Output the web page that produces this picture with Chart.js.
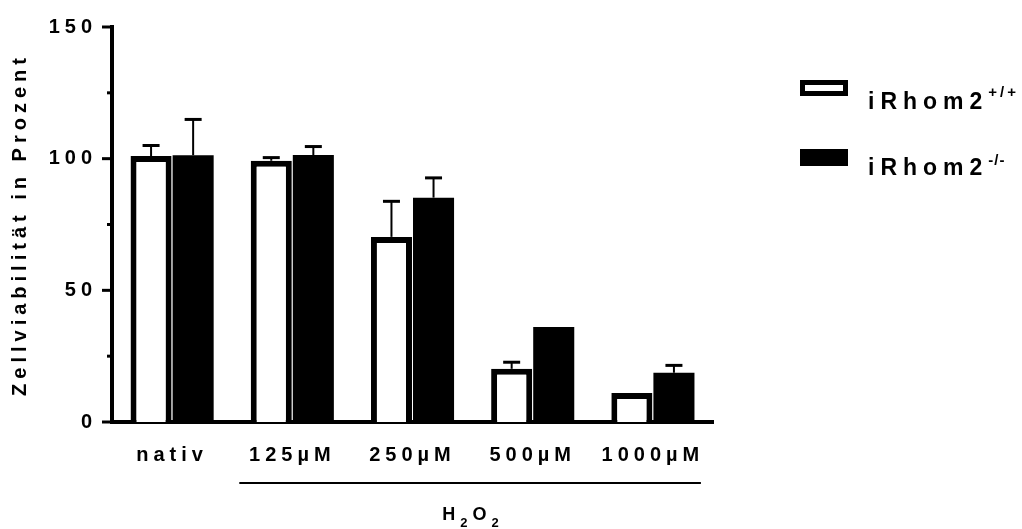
<!DOCTYPE html>
<html>
<head>
<meta charset="utf-8">
<script src="https://cdn.jsdelivr.net/npm/chart.js@4"></script>
<style>
  html, body { margin: 0; padding: 0; background: #fff; }
</style>
</head>
<body>
<canvas id="chart" width="1022" height="529"></canvas>
<script>
let categories = ['nativ', '125µM', '250µM', '500µM', '1000µM'];
let wildType = [101, 99.2, 70.3, 20.2, 11];
let wildTypeErr = [4, 1.2, 13.5, 2.5, 0];
let knockOut = [101.3, 101.4, 85.2, 36.1, 18.7];
let knockOutErr = [13.6, 3.2, 7.5, 0, 2.8];
let yLabelTicks = [0, 50, 100, 150];

const FONT = "'Liberation Sans', Arial, sans-serif";
const SPACING = '5px';

// prism style letter spacing on every text the chart draws
const letterSpacing = {
  id: 'letterSpacing',
  beforeUpdate(chart) { chart.ctx.letterSpacing = SPACING; },
  beforeDraw(chart) { chart.ctx.letterSpacing = SPACING; },
};

const errorBars = {
  id: 'errorBars',
  afterDatasetsDraw(chart) {
    const ctx = chart.ctx;
    const yScale = chart.scales.y;
    const errs = [wildTypeErr, knockOutErr];
    ctx.save();
    ctx.strokeStyle = '#000';
    chart.data.datasets.forEach((ds, i) => {
      chart.getDatasetMeta(i).data.forEach((bar, j) => {
        if (!errs[i][j]) return;
        const top = yScale.getPixelForValue(ds.data[j] + errs[i][j]);
        ctx.lineWidth = 2;
        ctx.beginPath();
        ctx.moveTo(bar.x, bar.y);
        ctx.lineTo(bar.x, top);
        ctx.stroke();
        ctx.lineWidth = 3;
        ctx.beginPath();
        ctx.moveTo(bar.x - 8.5, top);
        ctx.lineTo(bar.x + 8.5, top);
        ctx.stroke();
      });
    });
    ctx.restore();
  },
};

// draws text pieces left to right, each piece can be raised/lowered
function drawParts(ctx, parts, x, y, align) {
  let total = 0;
  parts.forEach((p) => {
    ctx.font = `bold ${p.size}px ${FONT}`;
    ctx.letterSpacing = p.spacing || SPACING;
    total += ctx.measureText(p.text).width;
  });
  let cx = align === 'center' ? x - total / 2 : x;
  parts.forEach((p) => {
    ctx.font = `bold ${p.size}px ${FONT}`;
    ctx.letterSpacing = p.spacing || SPACING;
    ctx.fillText(p.text, cx, y + (p.dy || 0));
    cx += ctx.measureText(p.text).width;
  });
}

const extras = {
  id: 'extras',
  afterDraw(chart) {
    const ctx = chart.ctx;
    const yScale = chart.scales.y;
    const xScale = chart.scales.x;
    const left = chart.chartArea.left;
    ctx.save();
    ctx.strokeStyle = '#000';
    ctx.fillStyle = '#000';
    ctx.lineWidth = 3;
    // major + minor tick marks
    yScale.ticks.forEach((t) => {
      const py = yScale.getPixelForValue(t.value);
      const len = yLabelTicks.includes(t.value) ? 10 : 5;
      ctx.beginPath();
      ctx.moveTo(left - len, py);
      ctx.lineTo(left, py);
      ctx.stroke();
    });

    // H2O2 bracket under the treated groups
    const x1 = xScale.getPixelForValue(1) - 53;
    const x2 = xScale.getPixelForValue(4) + 48;
    ctx.lineWidth = 2;
    ctx.beginPath();
    ctx.moveTo(x1, 483);
    ctx.lineTo(x2, 483);
    ctx.stroke();
    ctx.textBaseline = 'alphabetic';
    ctx.textAlign = 'left';
    drawParts(ctx, [
      { text: 'H', size: 18 },
      { text: '2', size: 13, dy: 7 },
      { text: 'O', size: 18 },
      { text: '2', size: 13, dy: 7 },
    ], (x1 + x2) / 2 + 3, 520, 'center');

    // legend
    const sets = chart.data.datasets;
    ctx.fillStyle = sets[0].backgroundColor;
    ctx.fillRect(800, 80, 48, 16);
    ctx.strokeStyle = sets[0].borderColor;
    ctx.lineWidth = 5;
    ctx.strokeRect(802.5, 82.5, 43, 11);
    ctx.fillStyle = sets[1].backgroundColor;
    ctx.fillRect(800, 149, 48, 17);
    ctx.fillStyle = '#000';
    drawParts(ctx, [
      { text: 'iRhom2', size: 23, spacing: '6px' },
      { text: '+/+', size: 15, dy: -12, spacing: '3px' },
    ], 868, 109);
    drawParts(ctx, [
      { text: 'iRhom2', size: 23, spacing: '6px' },
      { text: '-/-', size: 15, dy: -10, spacing: '1px' },
    ], 868, 175);
    ctx.restore();
  },
};

let ctx = document.getElementById('chart').getContext('2d');
const data = {
  labels: categories,
  datasets: [
    {
      label: 'iRhom2+/+',
      data: wildType,
      backgroundColor: '#ffffff',
      borderColor: '#000000',
      borderWidth: 6,
    },
    {
      label: 'iRhom2-/-',
      data: knockOut,
      backgroundColor: '#000000',
      borderColor: '#000000',
      borderWidth: 0,
    },
  ],
};
const config = {
  type: 'bar',
  data: data,
  options: {
    responsive: false,
    animation: false,
    devicePixelRatio: 1,
    datasets: {
      bar: {
        barPercentage: 0.976,
        categoryPercentage: 0.7,
      },
    },
    layout: {
      padding: { left: 0, right: 309, top: 24, bottom: 0 },
    },
    plugins: {
      legend: { display: false },
      tooltip: { enabled: false },
    },
    scales: {
      x: {
        grid: { display: false, drawTicks: false },
        border: { display: true, color: '#000', width: 4 },
        ticks: {
          color: '#000',
          padding: 21,
          maxRotation: 0,
          font: { family: FONT, size: 20, weight: 'bold' },
        },
        afterFit: (scale) => { scale.height = 107; },
      },
      y: {
        min: 0,
        max: 150,
        grid: { display: false, drawTicks: false },
        border: { display: true, color: '#000', width: 4 },
        ticks: {
          stepSize: 25,
          color: '#000',
          padding: 15,
          font: { family: FONT, size: 20, weight: 'bold' },
          callback: (v) => (yLabelTicks.includes(v) ? v : ''),
        },
        title: {
          display: true,
          text: 'Zellviabilität in Prozent',
          color: '#000',
          padding: { top: 8, bottom: 0 },
          font: { family: FONT, size: 20, weight: 'bold' },
        },
        afterFit: (scale) => { scale.width = 112; },
      },
    },
  },
  plugins: [letterSpacing, errorBars, extras],
};
new Chart(ctx, config);
</script>
</body>
</html>
